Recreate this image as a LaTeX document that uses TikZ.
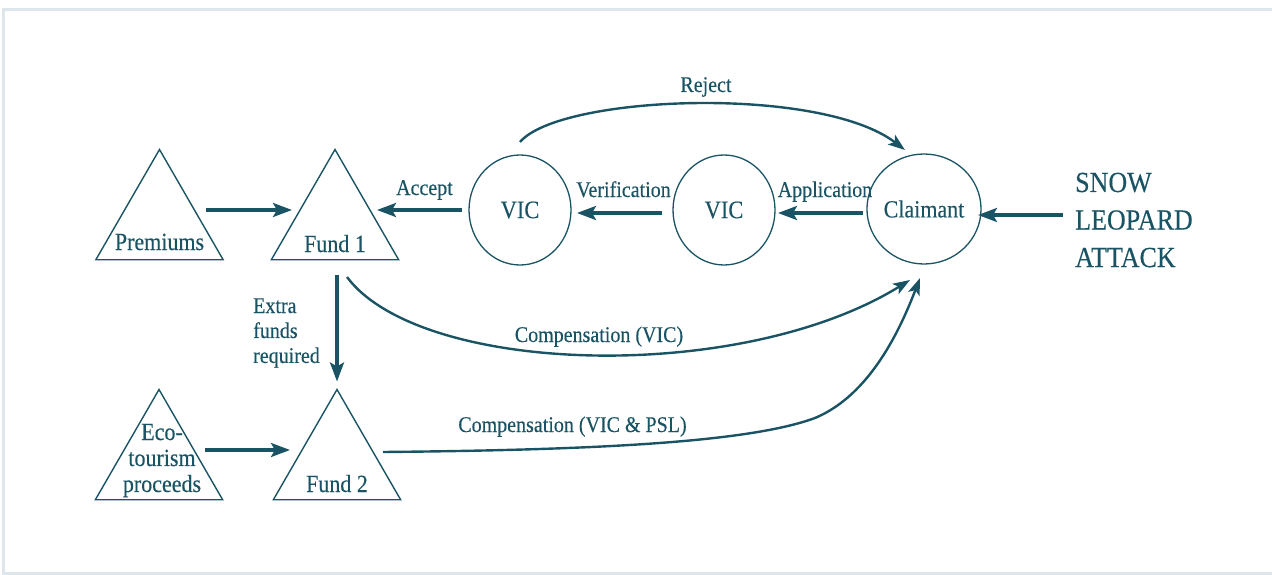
\documentclass[tikz,border=0pt]{standalone}
\usepackage{fontspec}
\setmainfont{Liberation Serif}[FakeBold=0.35]
\usepackage{graphicx}
\usetikzlibrary{shapes.geometric,arrows.meta,calc}
\definecolor{ink}{RGB}{26,84,100}
\definecolor{bordercol}{RGB}{221,230,234}
\newcommand{\stretchtxt}[1]{\scalebox{1}[1.12]{#1}}
\begin{document}
\begin{tikzpicture}[x=1pt,y=-1pt,
  tri/.style={regular polygon, regular polygon sides=3, minimum size=147pt, inner sep=0pt, outer sep=0pt, draw=ink, line width=1.4pt},
  oval/.style={ellipse, minimum width=102pt, minimum height=110pt, inner sep=0pt, outer sep=0pt, draw=ink, line width=1.3pt, text=ink, font=\fontsize{22.5}{26}\selectfont},
  lbl/.style={text=ink, font=\fontsize{20}{24}\selectfont, inner sep=0pt, anchor=base},
  tritext/.style={text=ink, font=\fontsize{22}{26}\selectfont, inner sep=0pt, anchor=base},
  arr/.style={draw=ink, line width=3.2pt, -{Stealth[length=19pt,width=14pt,inset=4pt]}},
  carr/.style={draw=ink, line width=2.4pt, -{Stealth[length=17pt,width=12pt,inset=4pt]}},
]
\useasboundingbox (0,0) rectangle (1272,575);
% frame
\draw[bordercol, line width=3pt] (1272,10) -- (3.5,10) -- (3.5,573) -- (1272,573);

% triangles
\node[tri] (prem) at (159.5,223) {};
\node[tri] (fund1) at (335,223) {};
\node[tri] (eco) at (159,463) {};
\node[tri] (fund2) at (337,463) {};
\node[tritext] (premtxt) at (159.5,250) {\stretchtxt{Premiums}};
\node[tritext] (fund1txt) at (335,252) {\stretchtxt{Fund 1}};
\node[tritext] (fund2txt) at (337,492) {\stretchtxt{Fund 2}};
\node[text=ink, font=\fontsize{22}{23.2}\selectfont, inner sep=0pt, anchor=base] (ecotxt) at (162,440)
  {\stretchtxt{\begin{tabular}[t]{@{}c@{}}Eco-\\tourism\\proceeds\end{tabular}}};

% circles
\node[oval] (vic1) at (520,210) {\stretchtxt{VIC}};
\node[oval] (vic2) at (724,210) {\stretchtxt{VIC}};
\node[oval, font=\fontsize{22}{26}\selectfont] (claim) at (924,209) {\stretchtxt{Claimant}};

% side texts
\node[text=ink, font=\fontsize{26}{33.5}\selectfont, inner sep=0pt, anchor=base west] (snow) at (1075,192)
  {\stretchtxt{\begin{tabular}[t]{@{}l@{}}SNOW\\LEOPARD\\ATTACK\end{tabular}}};
\node[text=ink, font=\fontsize{20}{22.3}\selectfont, inner sep=0pt, anchor=base west] (extra) at (253,313)
  {\stretchtxt{\begin{tabular}[t]{@{}l@{}}Extra\\funds\\required\end{tabular}}};

% labels
\node[lbl] (reject) at (706,92) {\stretchtxt{Reject}};
\node[lbl] (accept) at (424.5,195) {\stretchtxt{Accept}};
\node[lbl] (verif) at (623.5,197) {\stretchtxt{Verification}};
\node[lbl] (appl) at (825,197) {\stretchtxt{Application}};
\node[lbl] (compvic) at (599,342) {\stretchtxt{Compensation (VIC)}};
\node[lbl] (comppsl) at (572.5,432) {\stretchtxt{Compensation (VIC \& PSL)}};

% straight arrows
\draw[arr] ($(prem.center)+(46.5,-13)$) -- ($(fund1.center)+(-43,-13)$);
\draw[arr] ($(vic1.center)+(-58,0)$) -- ($(fund1.center)+(42,-13)$);
\draw[arr] ($(vic2.center)+(-62,3)$) -- ($(vic1.center)+(57,3)$);
\draw[arr] ($(claim.center)+(-61,4)$) -- ($(vic2.center)+(54,3)$);
\draw[arr] ($(snow.base west)+(-12,23)$) -- ($(claim.center)+(54,6)$);
\draw[arr] ($(fund1.south)+(2,15)$) -- ($(fund2.north)+(0,-8)$);
\draw[arr] ($(eco.center)+(46,-13)$) -- ($(fund2.center)+(-47,-13)$);

% curved arrows
\draw[carr] ($(vic1.center)+(0,-68)$) .. controls (560,95) and (820,85) .. ($(claim.center)+(-19,-59)$);
\draw[carr] ($(fund1.center)+(12,54)$) .. controls (420,375) and (740,385) .. ($(claim.center)+(-14,71)$);
\coordinate (bend) at (815,418);
\draw[carr] ($(fund2.center)+(46,-11)$) .. controls (600,450) and (750,442) .. (bend)
  .. controls (870,395) and (900,330) .. ($(claim.center)+(-4,69)$);
\end{tikzpicture}
\end{document}
